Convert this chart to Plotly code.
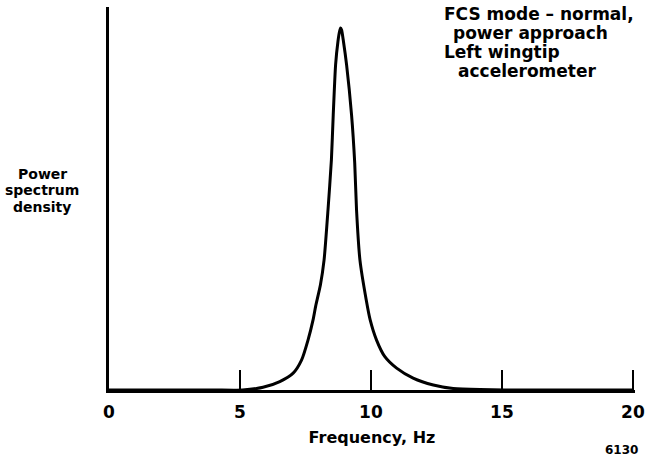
import plotly.graph_objects as go

# Frequency (Hz) and relative power spectrum density
freq = [0.0, 2.0, 4.0, 5.10, 5.88, 6.52, 7.03, 7.35, 7.60, 7.79, 7.89, 8.07, 8.21,
        8.36, 8.49, 8.56, 8.65, 8.74, 8.80, 8.84, 8.88, 8.95, 9.07, 9.26, 9.38, 9.45, 9.58,
        9.82, 9.97, 10.21, 10.53, 10.98, 11.61, 12.38, 13.14, 14.16, 16.0, 18.0, 20.0]
psd = [0.0, 0.0, 0.0, 0.0, 0.007, 0.022, 0.044, 0.078, 0.131, 0.183, 0.219, 0.274, 0.339,
       0.470, 0.601, 0.718, 0.849, 0.910, 0.936, 0.945, 0.940, 0.910, 0.849, 0.718, 0.593,
       0.470, 0.339, 0.235, 0.183, 0.131, 0.087, 0.057, 0.031, 0.013, 0.004, 0.001,
       0.0, 0.0, 0.0]

tick_vals = [0, 5, 10, 15, 20]
tick_text = ["0", "5", "10", "15", "20"]

x_title = "Frequency, Hz"
y_title_lines = ["Power", "spectrum", "density"]
note_lines = ["FCS mode \u2013 normal,", "power approach", "Left wingtip", "accelerometer"]
fig_id = "6130"

FONT = "DejaVu Sans"
W, H = 646, 461
ML, MR, MT, MB = 109, 11, 7, 71
PW, PH = W - ML - MR, H - MT - MB
X_MAX = 20.08


def px_to_paper(px, py):
    return (px - ML) / PW, (H - MB - py) / PH


fig = go.Figure()
fig.add_trace(go.Scatter(
    x=freq, y=psd, mode="lines",
    line=dict(color="black", width=3, shape="spline", smoothing=0.6),
    hoverinfo="skip", showlegend=False,
))

annotations = []
# y-axis label (horizontal, three lines)
for txt, py in zip(y_title_lines, [174, 190, 207]):
    xp, yp = px_to_paper(42, py)
    annotations.append(dict(text=txt, xref="paper", yref="paper", x=xp, y=yp,
                            xanchor="center", yanchor="middle", showarrow=False,
                            font=dict(family=FONT, size=14, color="black", weight="bold")))
# condition notes
for txt, px, py in zip(note_lines, [442, 451, 442, 456], [14, 33, 52, 71]):
    xp, yp = px_to_paper(px, py)
    annotations.append(dict(text=txt, xref="paper", yref="paper", x=xp, y=yp,
                            xanchor="left", yanchor="middle", showarrow=False,
                            font=dict(family=FONT, size=17, color="black", weight="bold")))
xp, yp = px_to_paper(621, 450)
annotations.append(dict(text=fig_id, xref="paper", yref="paper", x=xp, y=yp,
                        xanchor="center", yanchor="middle", showarrow=False,
                        font=dict(family=FONT, size=12, color="black", weight="bold")))

fig.update_layout(
    width=W, height=H,
    margin=dict(l=ML, r=MR, t=MT, b=MB, pad=0, autoexpand=False),
    paper_bgcolor="white", plot_bgcolor="white",
    annotations=annotations,
    xaxis=dict(
        range=[0, X_MAX], tickmode="array", tickvals=tick_vals, ticktext=tick_text,
        ticks="inside", ticklen=20, tickwidth=2, tickcolor="black",
        showline=True, linewidth=3, linecolor="black",
        showgrid=False, zeroline=False, automargin=False,
        ticklabelstandoff=5,
        tickfont=dict(family=FONT, size=17, color="black", weight="bold"),
        title=dict(text=x_title, standoff=11,
                   font=dict(family=FONT, size=16, color="black", weight="bold")),
    ),
    yaxis=dict(
        range=[0, 1], showticklabels=False, ticks="",
        showline=True, linewidth=3, linecolor="black",
        showgrid=False, zeroline=False, automargin=False,
    ),
)

fig.write_html("out.html")
